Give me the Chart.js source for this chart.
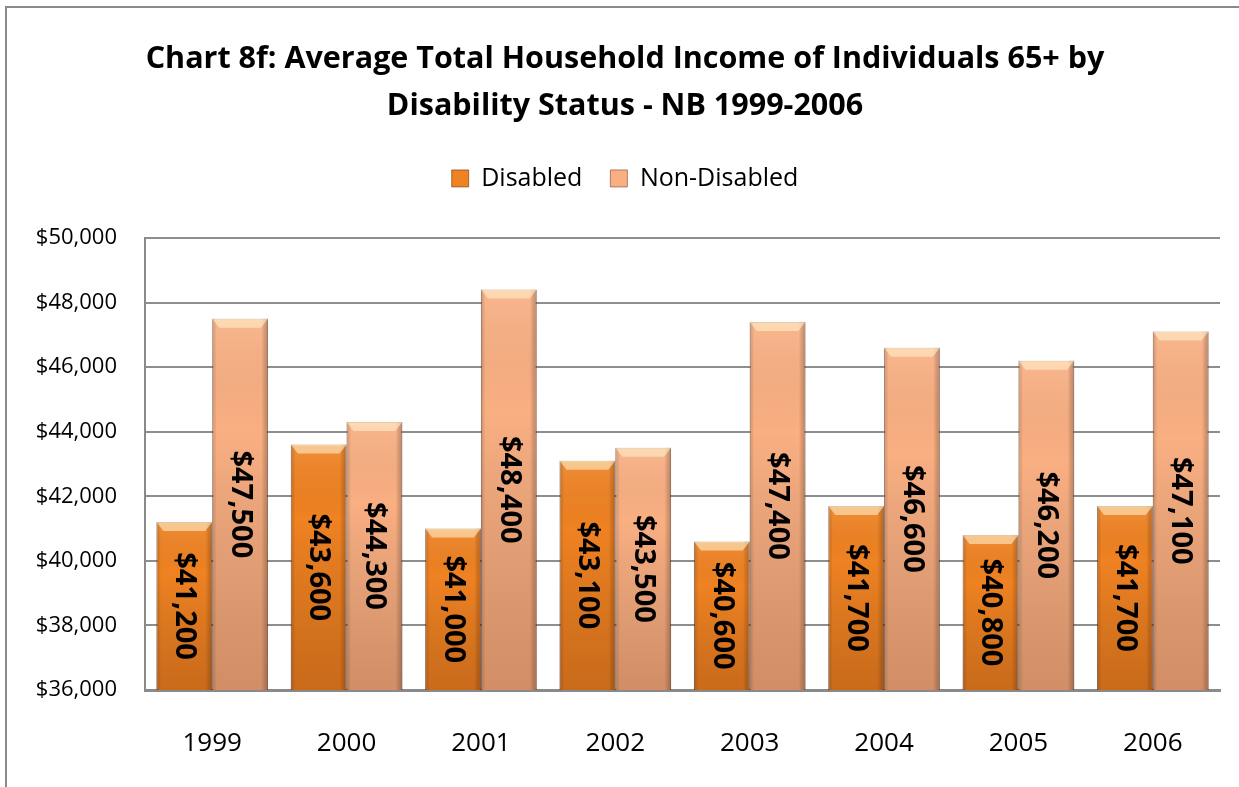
<!doctype html>
<html>
<head>
  <title>Chart 8f</title>
  <script src="https://cdn.jsdelivr.net/npm/chart.js"></script>
  <style>
    html, body { margin: 0; padding: 0; background: #fff; overflow: hidden; }
    #frame { position: absolute; left: 5px; top: 6px; width: 1300px; height: 900px; border: 2px solid #8a8a8a; }
    #wrap { position: absolute; left: 0; top: 0; width: 1239px; height: 787px; }
  </style>
</head>
<body>
<div id="frame"></div>
<div id="wrap"><canvas id="chart"></canvas></div>
<script>
    const years = ['1999', '2000', '2001', '2002', '2003', '2004', '2005', '2006'];
    const disabled = [41200, 43600, 41000, 43100, 40600, 41700, 40800, 41700];
    const nonDisabled = [47500, 44300, 48400, 43500, 47400, 46600, 46200, 47100];

    const FONT = '"Open Sans", "Noto Sans", sans-serif';
    const money = v => '$' + v.toLocaleString('en-US');

    // per-bar shading so the bars look a bit like the excel bevel
    const bevel = {
        id: 'bevel',
        afterDatasetsDraw(chart) {
            const ctx = chart.ctx;
            const bottom = chart.chartArea.bottom;
            chart.data.datasets.forEach((ds, i) => {
                chart.getDatasetMeta(i).data.forEach(bar => {
                    const left = bar.x - bar.width / 2;
                    const right = bar.x + bar.width / 2;
                    const top = bar.y;
                    const base = Math.min(bar.base, bottom);
                    const h = base - top;
                    ctx.save();
                    let g = ctx.createLinearGradient(0, top, 0, base);
                    g.addColorStop(0, 'rgba(255,255,255,0.1)');
                    g.addColorStop(0.3, 'rgba(0,0,0,0)');
                    g.addColorStop(1, 'rgba(70,25,0,0.22)');
                    ctx.fillStyle = g;
                    ctx.fillRect(left, top, bar.width, h);
                    g = ctx.createLinearGradient(left, 0, right, 0);
                    g.addColorStop(0, 'rgba(70,25,0,0.2)');
                    g.addColorStop(0.08, 'rgba(0,0,0,0)');
                    g.addColorStop(0.88, 'rgba(0,0,0,0)');
                    g.addColorStop(1, 'rgba(70,25,0,0.3)');
                    ctx.fillStyle = g;
                    ctx.fillRect(left, top, bar.width, h);
                    ctx.beginPath();
                    ctx.moveTo(left, top);
                    ctx.lineTo(right, top);
                    ctx.lineTo(right - 7, top + 9);
                    ctx.lineTo(left + 7, top + 9);
                    ctx.closePath();
                    ctx.fillStyle = 'rgba(255,238,200,0.6)';
                    ctx.fill();
                    ctx.restore();
                });
            });
        }
    };

    const valueLabels = {
        id: 'valueLabels',
        afterDatasetsDraw(chart) {
            const ctx = chart.ctx;
            const bottom = chart.chartArea.bottom;
            ctx.save();
            ctx.font = 'bold 29px ' + FONT;
            ctx.fillStyle = '#000';
            ctx.textAlign = 'center';
            ctx.textBaseline = 'middle';
            chart.data.datasets.forEach((ds, i) => {
                chart.getDatasetMeta(i).data.forEach((bar, j) => {
                    ctx.save();
                    ctx.translate(bar.x, (bar.y + Math.min(bar.base, bottom)) / 2);
                    ctx.rotate(Math.PI / 2);
                    ctx.fillText(money(ds.data[j]), 0, 0);
                    ctx.restore();
                });
            });
            ctx.restore();
        }
    };

    // extra room under the legend, like the excel layout
    const legendGap = {
        id: 'legendGap',
        afterInit(chart) {
            const lg = chart.legend;
            const fit = lg.fit;
            lg.fit = function () {
                fit.call(this);
                this.height += 37;
            };
        }
    };

    const ctx = document.getElementById('chart').getContext('2d');
    const chart = new Chart(ctx, {
        type: 'bar',
        data: {
            labels: years,
            datasets: [{
                label: 'Disabled',
                data: disabled,
                backgroundColor: '#EF8222',
                borderColor: 'rgba(110,55,15,0.6)',
                borderWidth: 1,
                barPercentage: 1.0,
                categoryPercentage: 0.83
            }, {
                label: 'Non-Disabled',
                data: nonDisabled,
                backgroundColor: '#F9AF82',
                borderColor: 'rgba(120,70,40,0.6)',
                borderWidth: 1,
                barPercentage: 1.0,
                categoryPercentage: 0.83
            }]
        },
        options: {
            responsive: true,
            maintainAspectRatio: false,
            animation: false,
            layout: { padding: { left: 30, right: 19, top: 0, bottom: 0 } },
            plugins: {
                title: {
                    display: true,
                    text: ['Chart 8f: Average Total Household Income of Individuals 65+ by', 'Disability Status - NB 1999-2006'],
                    color: '#000',
                    font: { family: FONT, size: 30.5, weight: 'bold', lineHeight: 1.54 },
                    padding: { top: 36, bottom: 8 }
                },
                legend: {
                    labels: {
                        color: '#000',
                        font: { family: FONT, size: 25 },
                        boxWidth: 17,
                        boxHeight: 17,
                        padding: 28
                    }
                },
                tooltip: { enabled: false }
            },
            scales: {
                x: {
                    grid: { display: false },
                    border: { color: '#8a8a8a', width: 3 },
                    ticks: { color: '#000', font: { family: FONT, size: 26 }, padding: 30 },
                    afterFit: s => { s.height = 97; }
                },
                y: {
                    min: 36000,
                    max: 50000,
                    beginAtZero: false,
                    grid: { color: '#8e8e8e', lineWidth: 2, drawTicks: false },
                    border: { color: '#8a8a8a', width: 2 },
                    ticks: {
                        stepSize: 2000,
                        color: '#000',
                        font: { family: FONT, size: 22 },
                        padding: 28,
                        callback: v => money(v)
                    },
                    afterFit: s => { s.width = 115; }
                }
            }
        },
        plugins: [legendGap, bevel, valueLabels]
    });
</script>
</body>
</html>
